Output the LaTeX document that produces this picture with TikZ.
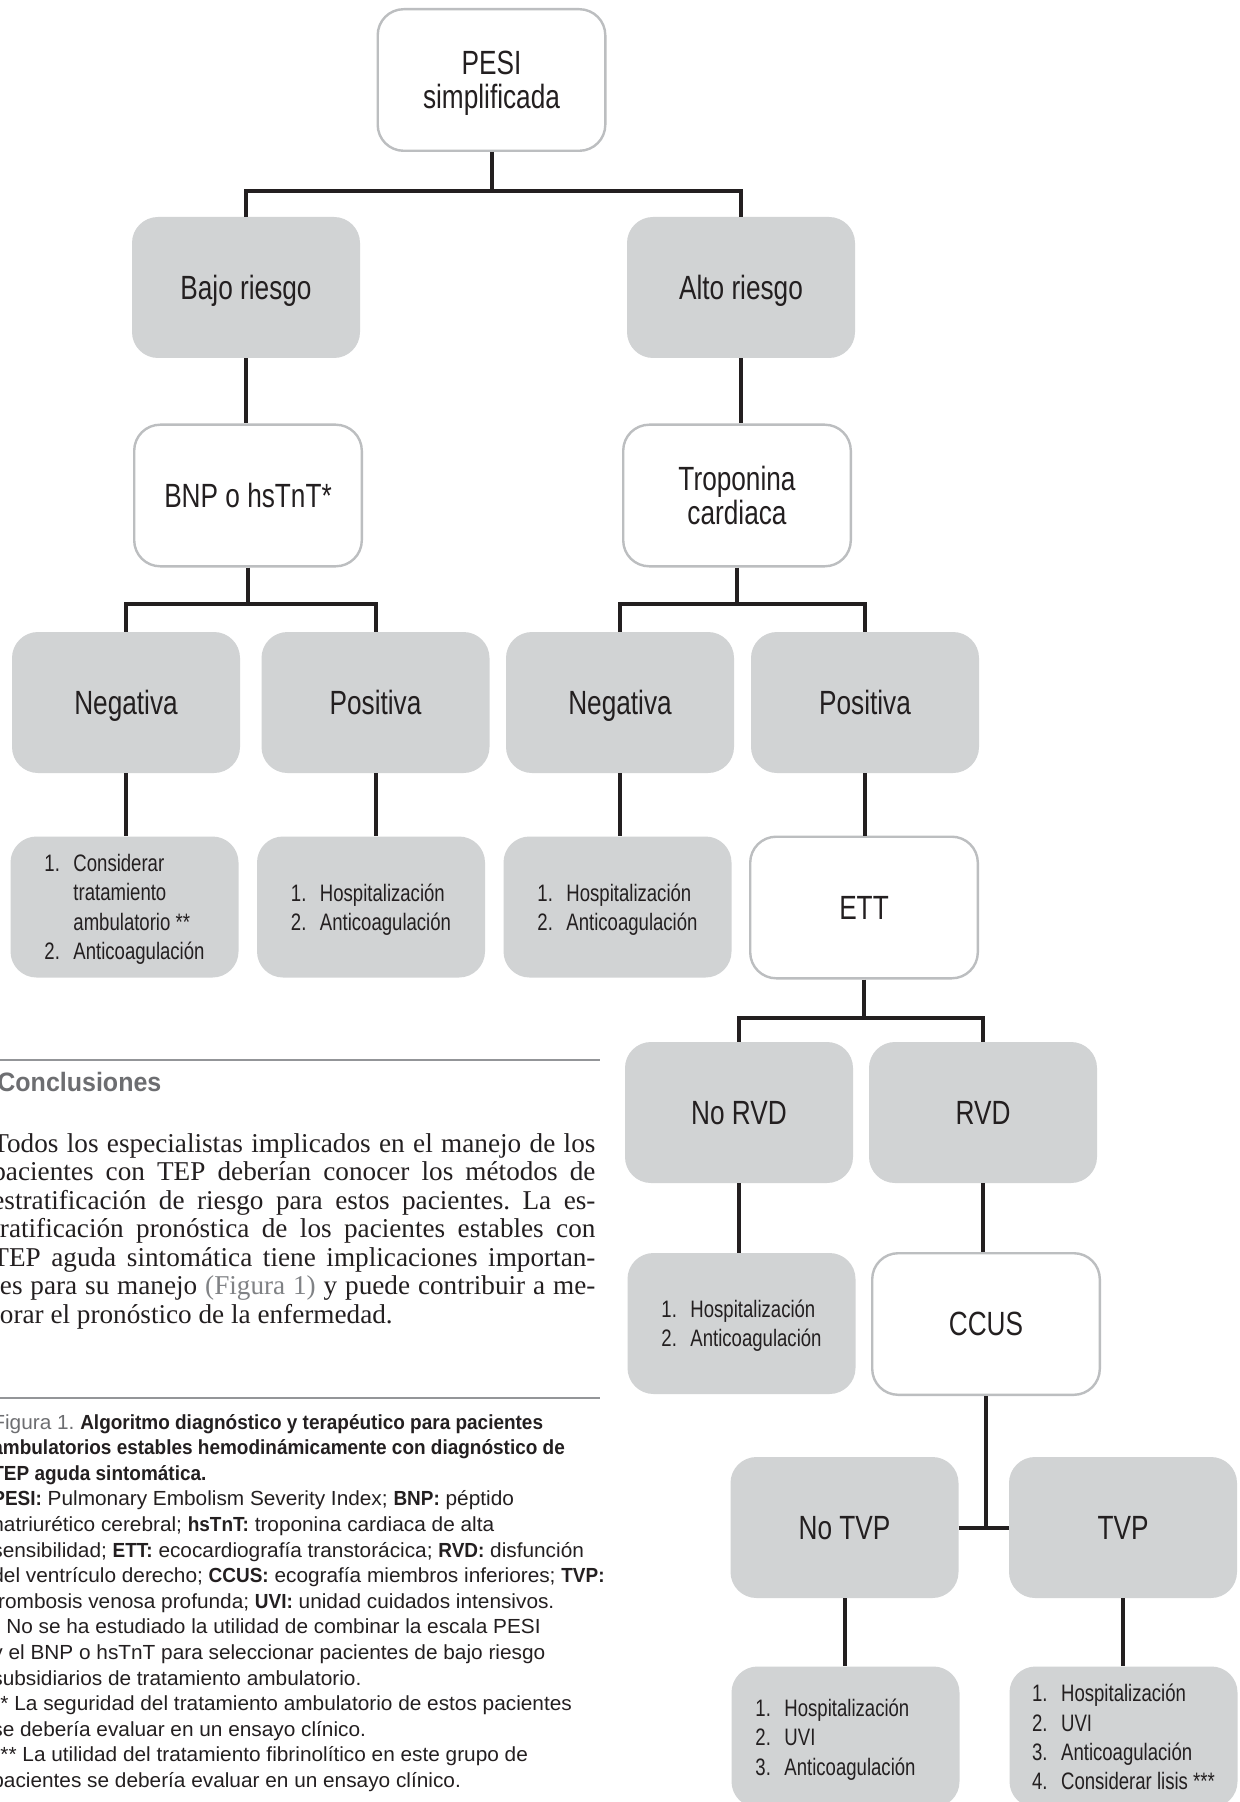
\documentclass[tikz,border=0pt]{standalone}
\usepackage{fontspec}
\setmainfont{Liberation Serif}
\newfontfamily\boxfont[FakeStretch=0.78]{Liberation Sans}
\newfontfamily\capfont[FakeStretch=1.02]{Liberation Sans}
\newfontfamily\capbold[FakeStretch=0.93]{Liberation Sans}
\newfontfamily\headfont[FakeStretch=0.94]{Liberation Sans}
\newfontfamily\parafont{Liberation Serif}
\definecolor{ink}{HTML}{231F20}
\definecolor{boxgray}{HTML}{D1D3D4}
\definecolor{edgegray}{HTML}{BCBEC0}
\definecolor{rulegray}{HTML}{939598}
\definecolor{headgray}{HTML}{6D6E71}
\definecolor{refgray}{HTML}{808285}
\newcommand{\itm}[1]{\makebox[14.5pt][l]{#1}}
\newcommand{\ind}{\hspace*{14.5pt}}
\newcommand{\cb}[1]{{\capbold\bfseries #1}}
\frenchspacing
\tikzset{
  basebox/.style={rounded corners=13pt, inner sep=0pt, text=ink, align=center,
    minimum width=114pt, minimum height=70.5pt, text depth=0pt},
  graybox/.style={basebox, fill=boxgray, draw=none},
  whitebox/.style={basebox, fill=white, draw=edgegray, line width=1.2pt,
    minimum width=113.8pt, minimum height=70.8pt},
  bigtxt/.style={font=\boxfont\fontsize{16.8}{17}\selectfont},
  listtxt/.style={font=\boxfont\fontsize{11.9}{14.7}\selectfont, align=left},
  conn/.style={draw=ink, line width=2pt},
  paraline/.style={anchor=base west, inner sep=0pt,
    font=\parafont\fontsize{13.6}{14.35}\selectfont, text=ink},
  capline/.style={anchor=base west, inner sep=0pt,
    font=\capfont\fontsize{10.2}{12.8}\selectfont, text=ink},
  rulestyle/.style={draw=rulegray, line width=1pt}
}
\begin{document}
\begin{tikzpicture}[x=0.5pt, y=-0.5pt]
\useasboundingbox (0,0) rectangle (1239,1802);
\clip (0,0) rectangle (1239,1802);
\fill[white] (0,0) rectangle (1239,1802);

% ---- boxes ----
\node[whitebox,bigtxt] (pesi) at (491.5,80) {PESI\\simplificada};
\node[graybox,bigtxt] (bajo) at (246,287.5) {Bajo riesgo};
\node[graybox,bigtxt] (alto) at (741,287.5) {Alto riesgo};
\node[whitebox,bigtxt] (bnp) at (248,495.5) {BNP o hsTnT*};
\node[whitebox,bigtxt] (trop) at (737,495.5) {Troponina\\cardiaca};
\node[graybox,bigtxt] (negL) at (126,702.5) {Negativa};
\node[graybox,bigtxt] (posL) at (375.5,702.5) {Positiva};
\node[graybox,bigtxt] (negR) at (620,702.5) {Negativa};
\node[graybox,bigtxt] (posR) at (865,702.5) {Positiva};
\node[graybox,listtxt] (res1) at (124.5,907)
  {\itm{1.}Considerar\\\ind tratamiento\\\ind ambulatorio **\\\itm{2.}Anticoagulación};
\node[graybox,listtxt] (res2) at (371,907)
  {\itm{1.}Hospitalización\\\itm{2.}Anticoagulación};
\node[graybox,listtxt] (res3) at (617.5,907)
  {\itm{1.}Hospitalización\\\itm{2.}Anticoagulación};
\node[whitebox,bigtxt] (ett) at (864,907.5) {ETT};
\node[graybox,bigtxt] (norvd) at (739,1112.5) {No RVD};
\node[graybox,bigtxt] (rvd) at (983,1112.5) {RVD};
\node[graybox,listtxt] (res4) at (741.5,1323.5)
  {\itm{1.}Hospitalización\\\itm{2.}Anticoagulación};
\node[whitebox,bigtxt] (ccus) at (986,1324) {CCUS};
\node[graybox,bigtxt] (notvp) at (844.5,1527.5) {No TVP};
\node[graybox,bigtxt] (tvp) at (1123,1527.5) {TVP};
\node[graybox,listtxt] (res5) at (845.5,1737)
  {\itm{1.}Hospitalización\\\itm{2.}UVI\\\itm{3.}Anticoagulación\hspace*{10pt}};
\node[graybox,listtxt] (res6) at (1123.5,1737)
  {\itm{1.}Hospitalización\\\itm{2.}UVI\\\itm{3.}Anticoagulación\\\itm{4.}Considerar lisis ***};

% ---- connectors ----
\coordinate (j1) at (493,191);
\coordinate (j2) at (247,604);
\coordinate (j3) at (861,1018);
\draw[conn] (pesi.south) -- (pesi.south |- j1) -| (bajo.north);
\draw[conn] (pesi.south |- j1) -| (alto.north);
\draw[conn] (bajo.south) -- (bajo.south |- bnp.north);
\draw[conn] (alto.south) -- (alto.south |- trop.north);
\draw[conn] (bnp.south) -- (bnp.south |- j2) -| (negL.north);
\draw[conn] (bnp.south |- j2) -| (posL.north);
\draw[conn] (trop.south) -- (trop.south |- j2) -| (negR.north);
\draw[conn] (trop.south |- j2) -| (posR.north);
\draw[conn] (negL.south) -- (negL.south |- res1.north);
\draw[conn] (posL.south) -- (posL.south |- res2.north);
\draw[conn] (negR.south) -- (negR.south |- res3.north);
\draw[conn] (posR.south) -- (posR.south |- ett.north);
\draw[conn] (ett.south) -- (ett.south |- j3) -| (norvd.north);
\draw[conn] (ett.south |- j3) -| (rvd.north);
\draw[conn] (norvd.south) -- (norvd.south |- res4.north);
\draw[conn] (rvd.south) -- (rvd.south |- ccus.north);
\draw[conn] (ccus.south) -- (ccus.south |- tvp.west);
\draw[conn] (notvp.east) -- (tvp.west);
\draw[conn] (notvp.south) -- (notvp.south |- res5.north);
\draw[conn] (tvp.south) -- (tvp.south |- res6.north);

% ---- text column ----
\draw[rulestyle] (0,1060) -- (600,1060);
\node[anchor=base west, inner sep=0pt, text=headgray,
  font=\headfont\bfseries\fontsize{13.3}{15}\selectfont] (conc) at (-3,1091) {Conclusiones};

\node[paraline] (p1) at (-8,1152) {\makebox[301.5pt][s]{Todos los especialistas implicados en el manejo de los}};
\node[paraline] (p2) at (-8,1180.5) {\makebox[301.5pt][s]{pacientes con TEP deberían conocer los métodos de}};
\node[paraline] (p3) at (-8,1209) {\makebox[301.5pt][s]{estratificación de riesgo para estos pacientes. La es-}};
\node[paraline] (p4) at (-8,1237.5) {\makebox[301.5pt][s]{tratificación pronóstica de los pacientes estables con}};
\node[paraline] (p5) at (-8,1266) {\makebox[301.5pt][s]{TEP aguda sintomática tiene implicaciones importan-}};
\node[paraline] (p6) at (-8,1294.5) {\makebox[301.5pt][s]{tes para su manejo \textcolor{refgray}{(Figura 1)} y puede contribuir a me-}};
\node[paraline] (p7) at (-8,1323) {jorar el pronóstico de la enfermedad.};

\draw[rulestyle] (0,1398) -- (600,1398);

\node[capline] (c1) at (-8,1429) {\textcolor{headgray}{Figura 1.} \cb{Algoritmo diagnóstico y terapéutico para pacientes}};
\node[capline] (c2) at (-8,1454.6) {\cb{ambulatorios estables hemodinámicamente con diagnóstico de}};
\node[capline] (c3) at (-8,1480.2) {\cb{TEP aguda sintomática.}};
\node[capline] (c4) at (-8,1505.8) {\cb{PESI:} Pulmonary Embolism Severity Index; \cb{BNP:} péptido};
\node[capline] (c5) at (-8,1531.4) {natriurético cerebral; \cb{hsTnT:} troponina cardiaca de alta};
\node[capline] (c6) at (-8,1557) {sensibilidad; \cb{ETT:} ecocardiografía transtorácica; \cb{RVD:} disfunción};
\node[capline] (c7) at (-8,1582.6) {del ventrículo derecho; \cb{CCUS:} ecografía miembros inferiores; \cb{TVP:}};
\node[capline] (c8) at (-8,1608.2) {trombosis venosa profunda; \cb{UVI:} unidad cuidados intensivos.};
\node[capline] (c9) at (-8,1633.8) {* No se ha estudiado la utilidad de combinar la escala PESI};
\node[capline] (c10) at (-8,1659.4) {y el BNP o hsTnT para seleccionar pacientes de bajo riesgo};
\node[capline] (c11) at (-8,1685) {subsidiarios de tratamiento ambulatorio.};
\node[capline] (c12) at (-8,1710.6) {** La seguridad del tratamiento ambulatorio de estos pacientes};
\node[capline] (c13) at (-8,1736.2) {se debería evaluar en un ensayo clínico.};
\node[capline] (c14) at (-8,1761.8) {*** La utilidad del tratamiento fibrinolítico en este grupo de};
\node[capline] (c15) at (-8,1787.4) {pacientes se debería evaluar en un ensayo clínico.};
\end{tikzpicture}
\end{document}
